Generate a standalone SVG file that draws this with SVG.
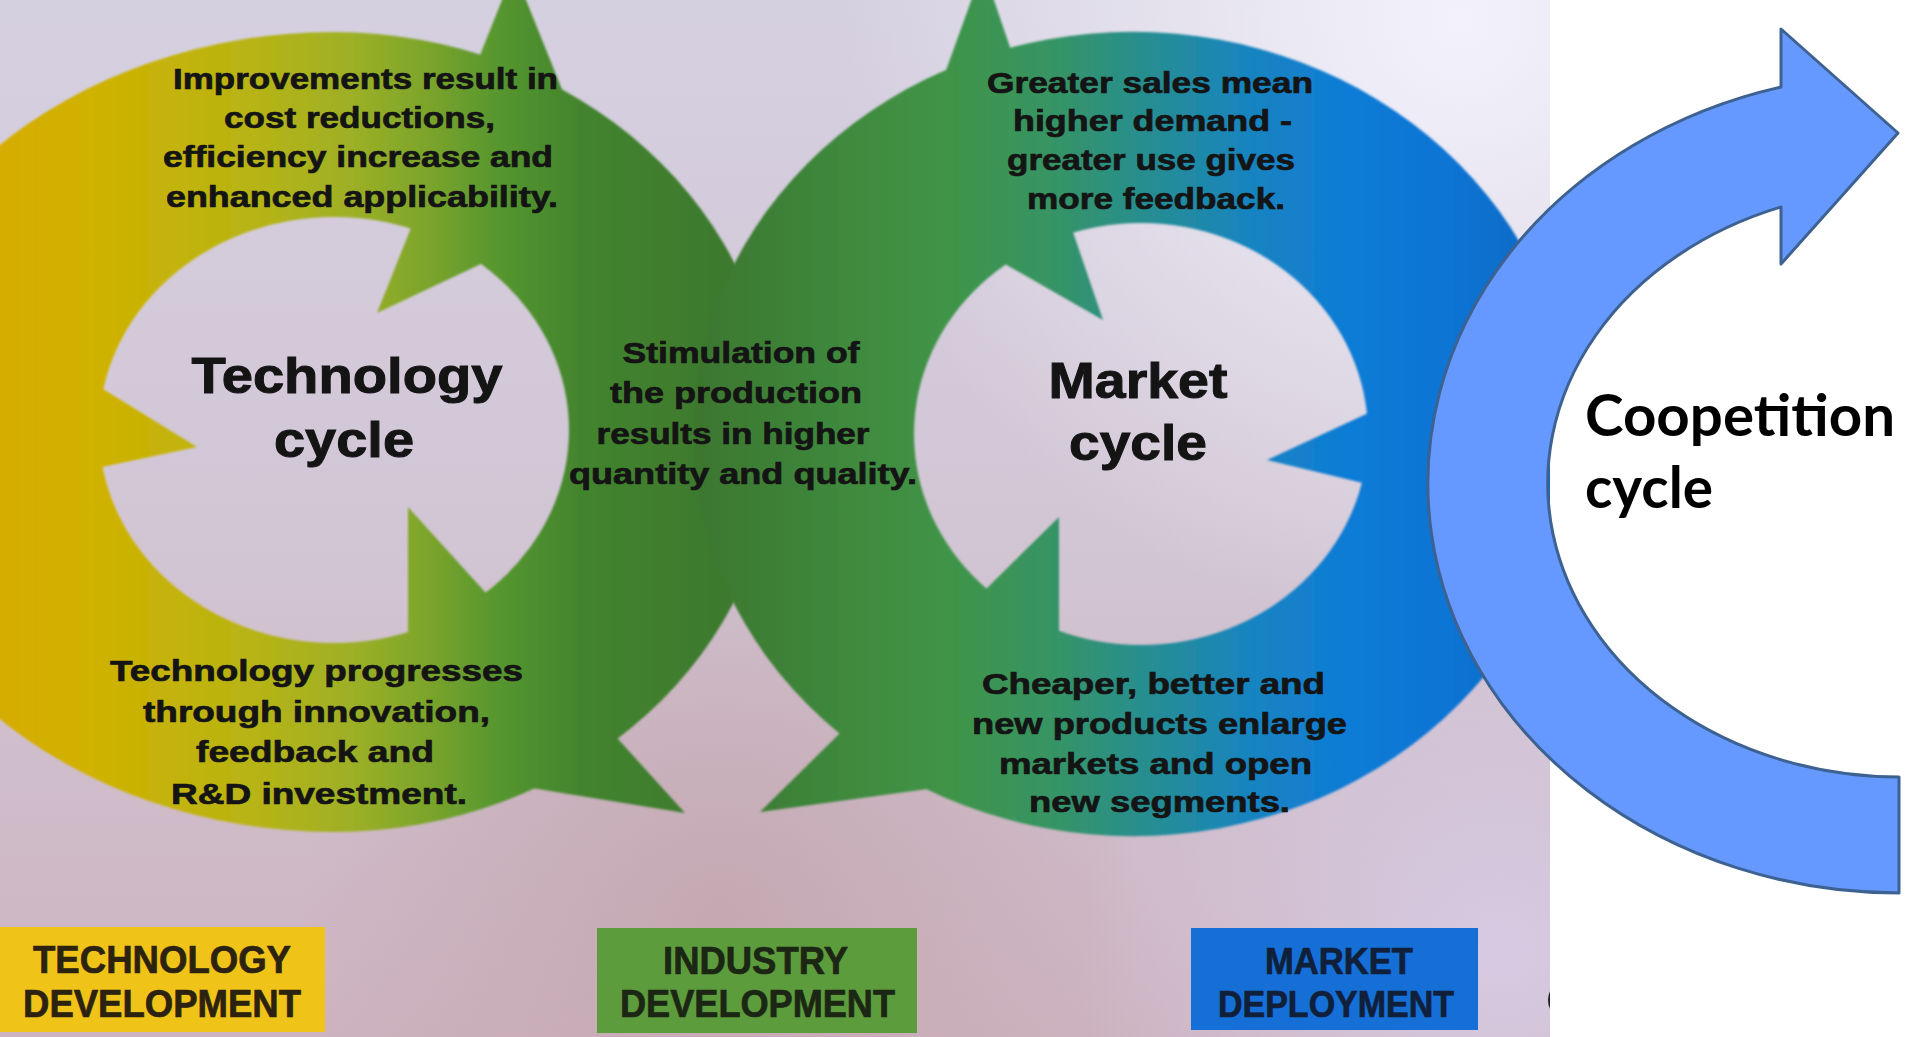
<svg xmlns="http://www.w3.org/2000/svg" width="1911" height="1037" viewBox="0 0 1911 1037">
  <defs>
    <style>
      .t { font-family: "Liberation Sans", Arial, Helvetica, sans-serif; font-weight: bold; fill: #141414; stroke: #141414; stroke-width: 0.7px; text-anchor: middle; }
      .body { font-size: 30px; }
      .big { font-size: 50px; stroke-width: 1px; }
      .lbl { font-size: 38px; }
      .cc { font-family: Lato, "Open Sans", "Liberation Sans", sans-serif; font-weight: bold; font-size: 58px; fill: #000; }
    </style>
    <clipPath id="photoClip"><rect x="0" y="0" width="1550" height="1037"/></clipPath>
    <filter id="soft" x="-5%" y="-5%" width="110%" height="110%">
      <feGaussianBlur stdDeviation="1.3"/>
    </filter>
    <linearGradient id="bgGrad" x1="0" y1="0" x2="0" y2="1">
      <stop offset="0" stop-color="#d5d0e0"/>
      <stop offset="0.5" stop-color="#d2c6d5"/>
      <stop offset="1" stop-color="#cdb3bf"/>
    </linearGradient>
    <radialGradient id="glowTR" gradientUnits="userSpaceOnUse" cx="1460" cy="20" r="620">
      <stop offset="0" stop-color="#f3f2fb" stop-opacity="1"/>
      <stop offset="1" stop-color="#f3f2fb" stop-opacity="0"/>
    </radialGradient>
    <radialGradient id="glowBR" gradientUnits="userSpaceOnUse" cx="1500" cy="950" r="420">
      <stop offset="0" stop-color="#d6cae2" stop-opacity="1"/>
      <stop offset="1" stop-color="#d6cae2" stop-opacity="0"/>
    </radialGradient>
    <radialGradient id="warmBC" gradientUnits="userSpaceOnUse" cx="720" cy="920" r="420">
      <stop offset="0" stop-color="#c3a7b0" stop-opacity="0.9"/>
      <stop offset="1" stop-color="#c3a7b0" stop-opacity="0"/>
    </radialGradient>
    <!-- technology cycle: golden yellow into green -->
    <linearGradient id="techGrad" gradientUnits="userSpaceOnUse" x1="-50" y1="0" x2="760" y2="0">
      <stop offset="0" stop-color="#d9aa00"/>
      <stop offset="0.185" stop-color="#cfb200"/>
      <stop offset="0.37" stop-color="#b8b414"/>
      <stop offset="0.494" stop-color="#9eb026"/>
      <stop offset="0.593" stop-color="#7aa42c"/>
      <stop offset="0.679" stop-color="#55962f"/>
      <stop offset="0.778" stop-color="#43842e"/>
      <stop offset="1" stop-color="#3c772f"/>
    </linearGradient>
    <!-- market cycle: green into blue -->
    <linearGradient id="marketGrad" gradientUnits="userSpaceOnUse" x1="700" y1="0" x2="1600" y2="0">
      <stop offset="0" stop-color="#3c772f"/>
      <stop offset="0.167" stop-color="#3f8a3e"/>
      <stop offset="0.278" stop-color="#3f9448"/>
      <stop offset="0.389" stop-color="#379463"/>
      <stop offset="0.5" stop-color="#268e92"/>
      <stop offset="0.611" stop-color="#1884c0"/>
      <stop offset="0.722" stop-color="#0e7cd6"/>
      <stop offset="0.833" stop-color="#0874d4"/>
      <stop offset="1" stop-color="#0663bc"/>
    </linearGradient>
  </defs>

  <!-- page -->
  <rect x="0" y="0" width="1911" height="1037" fill="#ffffff"/>

  <g id="photo" clip-path="url(#photoClip)">
    <rect x="0" y="0" width="1550" height="1037" fill="url(#bgGrad)"/>
    <rect x="0" y="0" width="1550" height="1037" fill="url(#warmBC)"/>
    <rect x="0" y="0" width="1550" height="1037" fill="url(#glowBR)"/>
    <rect x="0" y="0" width="1550" height="1037" fill="url(#glowTR)"/>

    <!-- Technology cycle ring with its three arrowheads -->
    <g id="technology-cycle" filter="url(#soft)" fill="url(#techGrad)">
      <path fill-rule="evenodd" d="M 334,32 A 480 400 0 0 0 334,832 A 442 400 0 0 0 334,32 Z M 99,430 A 235 213 0 1 0 569,430 A 235 213 0 1 0 99,430 Z"/>
      <polygon points="377,313 514,-30 608,204"/>
      <polygon points="197,447 -184,527 51,357"/>
      <polygon points="408,507 685,813 408,768"/>
    </g>

    <!-- Market cycle ring with its three arrowheads -->
    <g id="market-cycle" filter="url(#soft)" fill="url(#marketGrad)">
      <path fill-rule="evenodd" d="M 693,434 A 440 402 0 1 0 1573,434 A 440 402 0 1 0 693,434 Z M 914,434 A 227 211 0 1 0 1368,434 A 227 211 0 1 0 914,434 Z"/>
      <polygon points="1103,320 983,-32 898,203"/>
      <polygon points="1267,460 1651,552 1418,390"/>
      <polygon points="1059,517 760,812 1059,771"/>
    </g>

    <g id="cycle-titles" class="t big">
      <text x="347" y="393" textLength="311" lengthAdjust="spacingAndGlyphs">Technology</text>
      <text x="344" y="457" textLength="140" lengthAdjust="spacingAndGlyphs">cycle</text>
      <text x="1138" y="398" textLength="179" lengthAdjust="spacingAndGlyphs">Market</text>
      <text x="1138" y="460" textLength="138" lengthAdjust="spacingAndGlyphs">cycle</text>
    </g>

    <g id="text-improvements" class="t body">
      <text x="365.5" y="89" textLength="385" lengthAdjust="spacingAndGlyphs">Improvements result in</text>
      <text x="359.5" y="128" textLength="271" lengthAdjust="spacingAndGlyphs">cost reductions,</text>
      <text x="358" y="167" textLength="390" lengthAdjust="spacingAndGlyphs">efficiency increase and</text>
      <text x="362" y="207" textLength="392" lengthAdjust="spacingAndGlyphs">enhanced applicability.</text>
    </g>

    <g id="text-sales" class="t body">
      <text x="1150" y="93" textLength="326" lengthAdjust="spacingAndGlyphs">Greater sales mean</text>
      <text x="1152.5" y="131" textLength="279" lengthAdjust="spacingAndGlyphs">higher demand -</text>
      <text x="1151" y="170" textLength="288" lengthAdjust="spacingAndGlyphs">greater use gives</text>
      <text x="1156" y="209" textLength="258" lengthAdjust="spacingAndGlyphs">more feedback.</text>
    </g>

    <g id="text-production" class="t body">
      <text x="741" y="363" textLength="237" lengthAdjust="spacingAndGlyphs">Stimulation of</text>
      <text x="736" y="403" textLength="252" lengthAdjust="spacingAndGlyphs">the production</text>
      <text x="733" y="444" textLength="273" lengthAdjust="spacingAndGlyphs">results in higher</text>
      <text x="743" y="484" textLength="348" lengthAdjust="spacingAndGlyphs">quantity and quality.</text>
    </g>

    <g id="text-progress" class="t body">
      <text x="316.5" y="681" textLength="413" lengthAdjust="spacingAndGlyphs">Technology progresses</text>
      <text x="316.5" y="722" textLength="347" lengthAdjust="spacingAndGlyphs">through innovation,</text>
      <text x="315" y="762" textLength="238" lengthAdjust="spacingAndGlyphs">feedback and</text>
      <text x="319" y="804" textLength="296" lengthAdjust="spacingAndGlyphs">R&amp;D investment.</text>
    </g>

    <g id="text-products" class="t body">
      <text x="1153.5" y="694" textLength="343" lengthAdjust="spacingAndGlyphs">Cheaper, better and</text>
      <text x="1159.5" y="734" textLength="375" lengthAdjust="spacingAndGlyphs">new products enlarge</text>
      <text x="1155.5" y="774" textLength="313" lengthAdjust="spacingAndGlyphs">markets and open</text>
      <text x="1159.5" y="812" textLength="261" lengthAdjust="spacingAndGlyphs">new segments.</text>
    </g>

    <!-- stage boxes along the bottom -->
    <g id="box-technology">
      <rect x="0" y="927" width="325" height="105" fill="#efc318"/>
      <g class="t lbl" style="fill:#2c2210;stroke:#2c2210">
        <text x="162" y="973" textLength="258" lengthAdjust="spacingAndGlyphs">TECHNOLOGY</text>
        <text x="162" y="1017" textLength="278" lengthAdjust="spacingAndGlyphs">DEVELOPMENT</text>
      </g>
    </g>
    <g id="box-industry">
      <rect x="597" y="928" width="320" height="105" fill="#5c9c3c"/>
      <g class="t lbl" style="fill:#1c2614;stroke:#1c2614">
        <text x="755.5" y="974" textLength="185" lengthAdjust="spacingAndGlyphs">INDUSTRY</text>
        <text x="757.5" y="1017" textLength="275" lengthAdjust="spacingAndGlyphs">DEVELOPMENT</text>
      </g>
    </g>
    <g id="box-market">
      <rect x="1191" y="928" width="287" height="102" fill="#156fd6"/>
      <g class="t lbl" style="fill:#10203a;stroke:#10203a;font-size:36px">
        <text x="1339" y="974" textLength="148" lengthAdjust="spacingAndGlyphs">MARKET</text>
        <text x="1336" y="1017" textLength="236" lengthAdjust="spacingAndGlyphs">DEPLOYMENT</text>
      </g>
    </g>

    <!-- cut-off mark at the right edge of the print -->
    <ellipse cx="1557" cy="1000" rx="9" ry="14" fill="#222"/>
  </g>

  <!-- curved arrow around the coopetition label -->
  <g id="coopetition-arrow">
    <path d="M 1781,87 A 472 409.6 0 0 0 1899,893 L 1899,777 A 352 293.6 0 0 1 1781,207 L 1781,264 L 1898,133 L 1781,29 Z"
          fill="#6699ff" stroke="#3d6291" stroke-width="3" stroke-linejoin="round"/>
  </g>
  <g id="coopetition-label">
    <text class="cc" x="1585" y="436" textLength="310" lengthAdjust="spacingAndGlyphs">Coopetition</text>
    <text class="cc" x="1585" y="508" textLength="128" lengthAdjust="spacingAndGlyphs">cycle</text>
  </g>
</svg>
